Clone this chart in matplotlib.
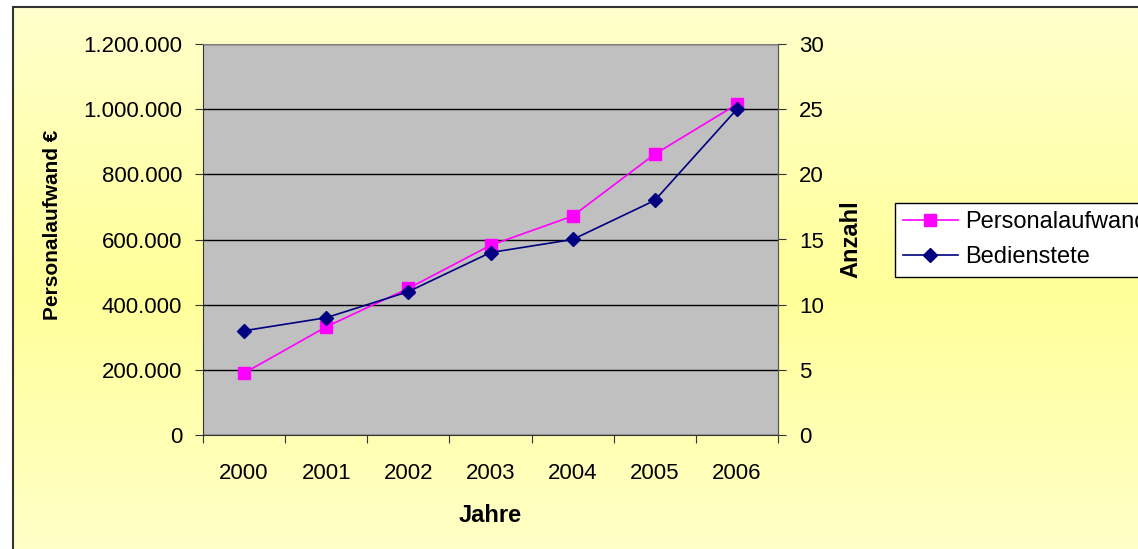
import numpy as np
import matplotlib
matplotlib.use('Agg')
import matplotlib.pyplot as plt
from matplotlib.ticker import FuncFormatter
from matplotlib.colors import LinearSegmentedColormap
from matplotlib.patches import Rectangle

# data
jahre = ['2000', '2001', '2002', '2003', '2004', '2005', '2006']
personalaufwand = [190000, 332000, 450000, 582000, 672000, 862000, 1015000]
bedienstete = [8, 9, 11, 14, 15, 18, 25]

plt.rcParams['font.family'] = ['Liberation Sans', 'DejaVu Sans']

W, H = 1138, 549
fig = plt.figure(figsize=(W / 100, H / 100), dpi=100)
fig.patch.set_facecolor('white')

# yellow gradient background of the chart area
bg = fig.add_axes([13 / W, -0.05, 1.0, 1 - 7 / H + 0.05], zorder=0)
cmap = LinearSegmentedColormap.from_list('bg', ['#FFFFCC', '#FFFF99', '#FFFFCC'])
grad = np.linspace(0, 1, 256).reshape(-1, 1)
bg.imshow(grad, aspect='auto', cmap=cmap, extent=[0, 1, 0, 1], origin='upper')
bg.set_xlim(0, 1)
bg.set_ylim(0, 1)
bg.axis('off')
fig.add_artist(Rectangle((13 / W, -0.05), 1.0, 1 - 7 / H + 0.05, transform=fig.transFigure,
                         fill=False, edgecolor='#333333', linewidth=1.5, zorder=1))

ax = fig.add_axes([203 / W, 114 / H, 575 / W, 391 / H], zorder=2)
ax.set_facecolor('#C0C0C0')
x = np.arange(len(jahre))

ax.set_xlim(-0.5, len(jahre) - 0.5)
ax.set_ylim(0, 1200000)
ax.set_yticks(np.arange(0, 1200001, 200000))
ax.yaxis.set_major_formatter(FuncFormatter(lambda v, p: f'{int(v):,}'.replace(',', '.')))
ax.grid(axis='y', color='black', linewidth=1)
ax.set_axisbelow(True)

ax.set_xticks(np.arange(-0.5, len(jahre), 1))
ax.set_xticklabels([])
ax.set_xticks(x, minor=True)
ax.set_xticklabels(jahre, minor=True)
ax.tick_params(axis='x', which='major', length=6, direction='out', color='#333333')
ax.tick_params(axis='x', which='minor', length=0, pad=20, labelsize=16)
ax.tick_params(axis='y', length=6, direction='out', pad=9, labelsize=16, color='#333333')

for s in ['top', 'right']:
    ax.spines[s].set_color('#808080')
ax.spines['left'].set_color('#333333')
ax.spines['bottom'].set_color('#333333')

l1, = ax.plot(x, personalaufwand, color='#FF00FF', linewidth=1.2, marker='s',
              markersize=8, markerfacecolor='#FF00FF', markeredgecolor='#FF00FF',
              label='Personalaufwand', zorder=3)

ax2 = ax.twinx()
ax2.set_ylim(0, 30)
ax2.set_yticks(np.arange(0, 31, 5))
ax2.tick_params(axis='y', length=6, direction='out', pad=9, labelsize=16, color='#333333')
ax2.spines['right'].set_color('#555555')
for s in ['top', 'left', 'bottom']:
    ax2.spines[s].set_visible(False)
l2, = ax2.plot(x, bedienstete, color='#000080', linewidth=1.2, marker='D',
               markersize=7.5, markerfacecolor='#000080', markeredgecolor='#000080',
               label='Bedienstete', zorder=3)

ax.set_xlabel('Jahre', fontsize=17, fontweight='bold')
ax.xaxis.set_label_coords(0.499, -0.176)
ax.set_ylabel('Personalaufwand €', fontsize=15, fontweight='bold')
ax.yaxis.set_label_coords(-0.245, 0.537)
ax2.set_ylabel('Anzahl', fontsize=17, fontweight='bold')
ax2.yaxis.set_label_coords(1.106, 0.5)

leg = fig.legend(handles=[l1, l2], loc='upper left',
                 bbox_to_anchor=(895 / W, 1 - 203 / H), fontsize=17,
                 frameon=True, fancybox=False, edgecolor='black', framealpha=1,
                 handlelength=2.3, handletextpad=0.3, borderpad=0.35,
                 labelspacing=0.55, borderaxespad=0)
leg.get_frame().set_linewidth(1)

fig.savefig('out.png', dpi=100)
